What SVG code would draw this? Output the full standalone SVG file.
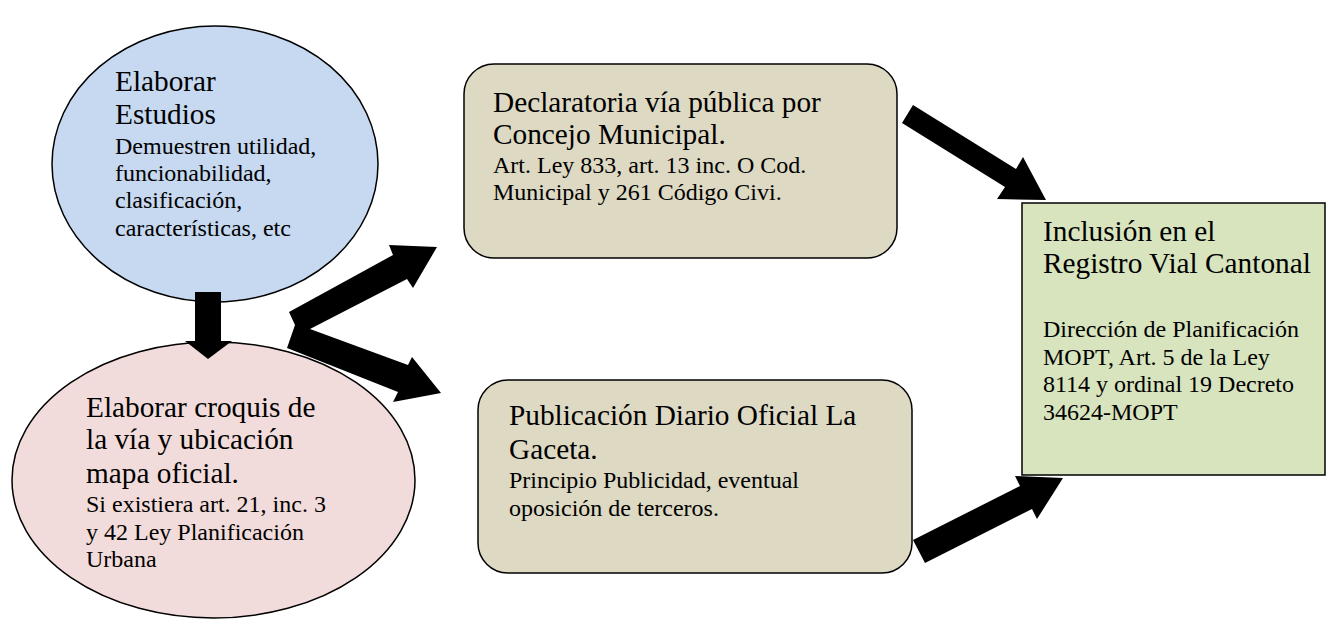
<svg xmlns="http://www.w3.org/2000/svg" width="1327" height="620" viewBox="0 0 1327 620">
<style>
.shape{stroke:#000;stroke-width:1.5}
.big{font-size:29.3px;fill:#000}
.small{font-size:24px;fill:#000}
.arrow{fill:#000;stroke:none}
</style>
<rect x="0" y="0" width="1327" height="620" fill="#fff"/>
<g font-family="Times New Roman, Liberation Serif, Tinos, serif">
<g id="node-estudios">
<ellipse class="shape" cx="215" cy="164" rx="163" ry="138" fill="#C6D9F1"/>
<text class="big" x="115" y="91">Elaborar</text>
<text class="big" x="115" y="124">Estudios</text>
<text class="small" x="115" y="154">Demuestren utilidad,</text>
<text class="small" x="115" y="181">funcionabilidad,</text>
<text class="small" x="115" y="208">clasificación,</text>
<text class="small" x="115" y="236">características, etc</text>
</g>
<g id="node-croquis">
<ellipse class="shape" cx="213.5" cy="480" rx="201.5" ry="138" fill="#F2DCDB"/>
<text class="big" x="86" y="417">Elaborar croquis de</text>
<text class="big" x="86" y="449">la vía y ubicación</text>
<text class="big" x="86" y="483">mapa oficial.</text>
<text class="small" x="86" y="512">Si existiera art. 21, inc. 3</text>
<text class="small" x="86" y="540">y 42 Ley Planificación</text>
<text class="small" x="86" y="567">Urbana</text>
</g>
<g id="node-declaratoria">
<rect class="shape" x="464" y="64" width="433" height="194" rx="30" ry="30" fill="#DDD9C3"/>
<text class="big" x="493" y="112">Declaratoria vía pública por</text>
<text class="big" x="493" y="144">Concejo Municipal.</text>
<text class="small" x="493" y="173">Art. Ley 833, art. 13 inc. O Cod.</text>
<text class="small" x="493" y="200">Municipal y 261 Código Civi.</text>
</g>
<g id="node-publicacion">
<rect class="shape" x="478" y="380" width="434" height="193" rx="30" ry="30" fill="#DDD9C3"/>
<text class="big" x="509" y="425">Publicación Diario Oficial La</text>
<text class="big" x="509" y="459">Gaceta.</text>
<text class="small" x="509" y="488">Principio Publicidad, eventual</text>
<text class="small" x="509" y="516">oposición de terceros.</text>
</g>
<g id="node-registro">
<rect class="shape" x="1022" y="203" width="303" height="272" fill="#D7E4BD"/>
<text class="big" x="1043" y="241">Inclusión en el</text>
<text class="big" x="1043" y="273">Registro Vial Cantonal</text>
<text class="small" x="1043" y="337">Dirección de Planificación</text>
<text class="small" x="1043" y="365">MOPT, Art. 5 de la Ley</text>
<text class="small" x="1043" y="392">8114 y ordinal 19 Decreto</text>
<text class="small" x="1043" y="420">34624-MOPT</text>
</g>
</g>
<g id="connectors">
<polygon class="arrow" points="195,292 221,292 221,341 232,341 208,359 185,341 195,341"/>
<polygon class="arrow" points="289,312 393,255 389,245 437,247 413,288 407,279 310,329 408,365 412,357 441,393 393,402 398,392 287,348 295,325"/>
<polygon class="arrow" points="913,105 1016,169 1023,157 1046,200 997,199 1005,187 902,123"/>
<polygon class="arrow" points="913,540 1020,486 1015,476 1063,478 1037,519 1032,509 925,563"/>
</g>
</svg>
